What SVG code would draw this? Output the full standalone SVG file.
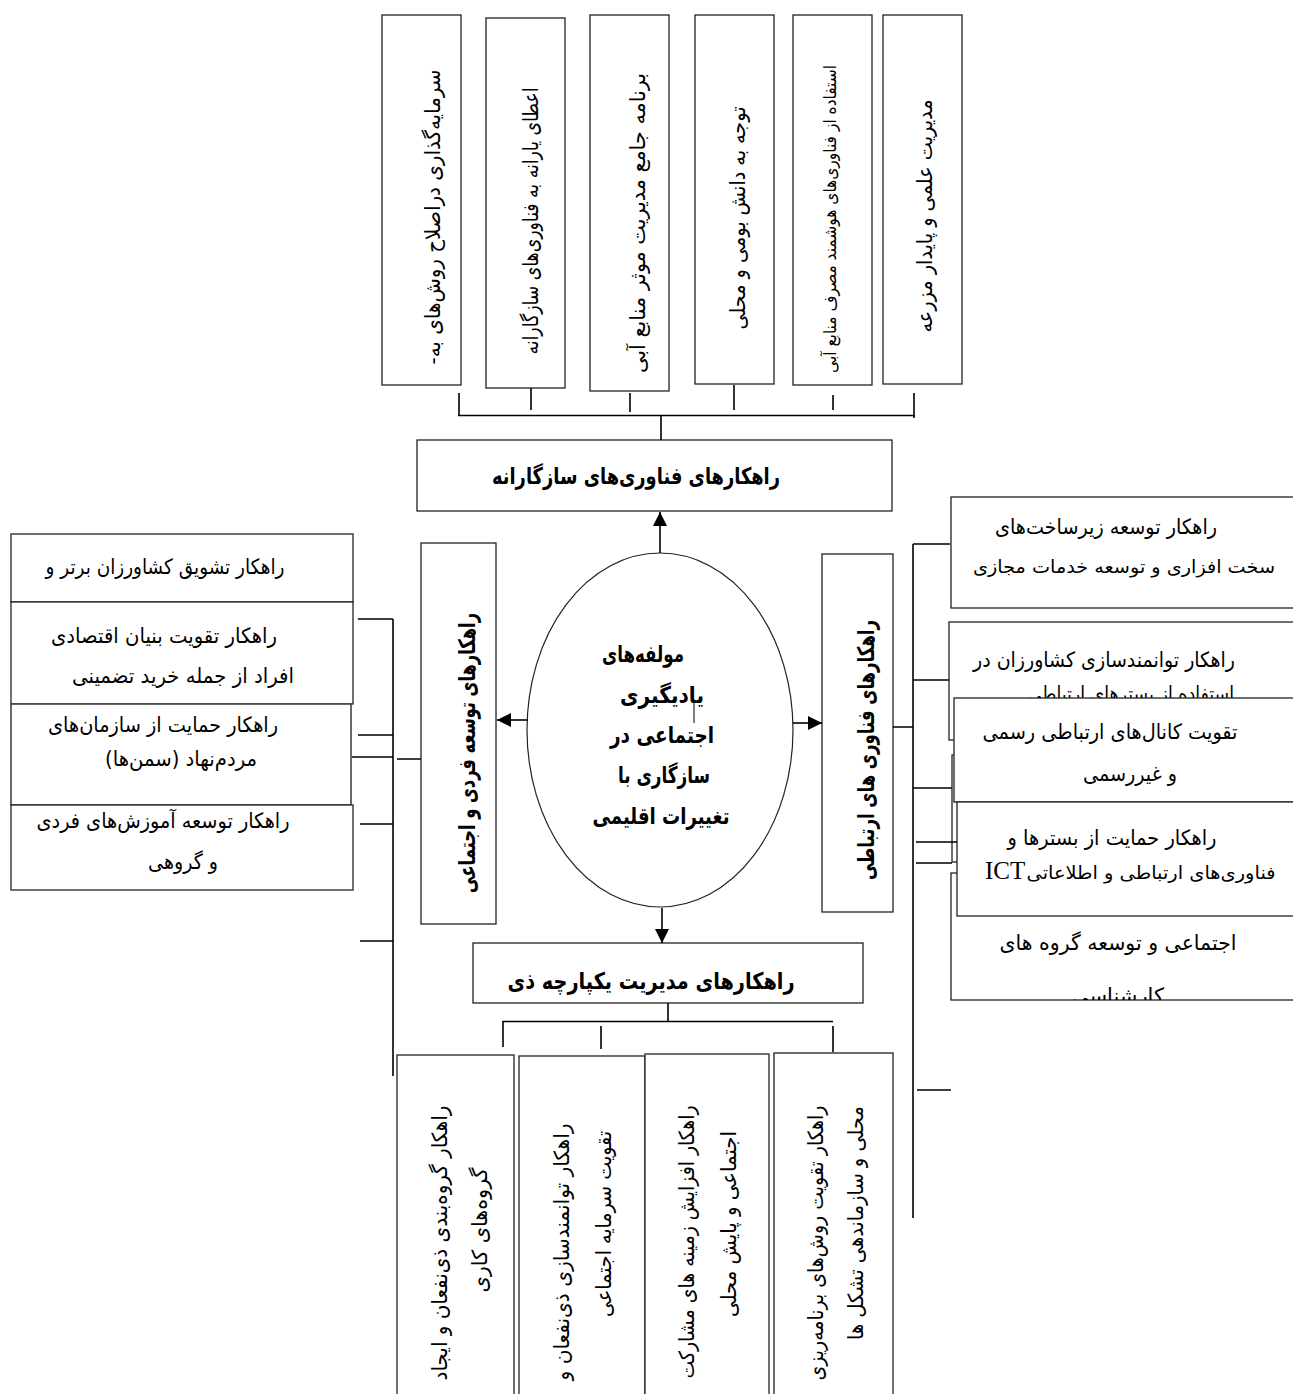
<svg xmlns="http://www.w3.org/2000/svg" width="1293" height="1394" viewBox="0 0 1293 1394">
<style>
.box{fill:#fff;stroke:#222;stroke-width:1.3}
.t{font-family:"DejaVu Sans",sans-serif;font-size:21px;fill:#000}
.b{font-weight:bold;font-size:23px}
.sm{font-size:17px}
.nr{font-size:18px}
.ln{stroke:#000;stroke-width:1.6;fill:none}
.en{font-family:"Liberation Serif",serif;font-size:25px;fill:#000}
</style>
<defs>
<marker id="ah" markerWidth="14" markerHeight="14" refX="14" refY="7" orient="auto" markerUnits="userSpaceOnUse">
<path d="M0,0 L14,7 L0,14 z" fill="#000"/>
</marker>
<clipPath id="r5clip"><rect x="951" y="873" width="342" height="127"/></clipPath>
</defs>
<rect width="1293" height="1394" fill="#fff"/>

<g id="top1"><rect class="box" x="382" y="15" width="79" height="370"/>
<text class="t" direction="rtl" text-anchor="middle" transform="translate(440,217) rotate(-90)" textLength="295" lengthAdjust="spacingAndGlyphs">سرمایه‌گذاری دراصلاح روش‌های به-</text></g>
<g id="top2"><rect class="box" x="486" y="18" width="79" height="370"/>
<text class="t" direction="rtl" text-anchor="middle" transform="translate(538,221) rotate(-90)" textLength="267" lengthAdjust="spacingAndGlyphs">اعطای یارانه به فناوری‌های سازگارانه</text></g>
<g id="top3"><rect class="box" x="590" y="15" width="79" height="376"/>
<text class="t" direction="rtl" text-anchor="middle" transform="translate(645,223) rotate(-90)" textLength="300" lengthAdjust="spacingAndGlyphs">برنامه جامع مدیریت موثر  منابع آبی</text></g>
<g id="top4"><rect class="box" x="695" y="15" width="79" height="369"/>
<text class="t" direction="rtl" text-anchor="middle" transform="translate(745,218) rotate(-90)" textLength="223" lengthAdjust="spacingAndGlyphs">توجه به دانش بومی و محلی</text></g>
<g id="top5"><rect class="box" x="793" y="15" width="79" height="370"/>
<text class="t sm" direction="rtl" text-anchor="middle" transform="translate(836,219) rotate(-90)" textLength="308" lengthAdjust="spacingAndGlyphs">استفاده از فناوری‌های هوشمند مصرف منابع آبی</text></g>
<g id="top6"><rect class="box" x="883" y="15" width="79" height="369"/>
<text class="t" direction="rtl" text-anchor="middle" transform="translate(932,216) rotate(-90)" textLength="233" lengthAdjust="spacingAndGlyphs">مدیریت علمی و پایدار مزرعه</text></g>

<g id="head-adaptive"><rect class="box" x="417" y="440" width="475" height="71"/>
<text class="t b" direction="rtl" text-anchor="middle" x="636" y="484" textLength="288" lengthAdjust="spacingAndGlyphs">راهکارهای فناوری‌های سازگارانه</text></g>

<g id="left1"><rect class="box" x="11" y="534" width="342" height="68"/>
<text class="t" direction="rtl" text-anchor="middle" x="165" y="574" textLength="239" lengthAdjust="spacingAndGlyphs">راهکار تشویق کشاورزان برتر و</text></g>
<g id="left2"><rect class="box" x="11" y="602" width="342" height="102"/>
<text class="t" direction="rtl" text-anchor="middle" x="164" y="643" textLength="226" lengthAdjust="spacingAndGlyphs">راهکار تقویت بنیان اقتصادی</text>
<text class="t" direction="rtl" text-anchor="middle" x="183" y="683" textLength="222" lengthAdjust="spacingAndGlyphs">افراد از جمله خرید تضمینی</text></g>
<g id="left3"><rect class="box" x="11" y="704" width="340" height="101" style="stroke:#444;stroke-width:1.6"/>
<text class="t" direction="rtl" text-anchor="middle" x="163" y="732" textLength="230" lengthAdjust="spacingAndGlyphs">راهکار حمایت از سازمان‌های</text>
<text class="t" direction="rtl" text-anchor="middle" x="181" y="766" textLength="152" lengthAdjust="spacingAndGlyphs">مردم‌نهاد (سمن‌ها)</text></g>
<g id="left4"><rect class="box" x="11" y="805" width="342" height="85"/>
<text class="t" direction="rtl" text-anchor="middle" x="163" y="828" textLength="253" lengthAdjust="spacingAndGlyphs">راهکار توسعه آموزش‌های فردی</text>
<text class="t" direction="rtl" text-anchor="middle" x="183" y="869" textLength="70" lengthAdjust="spacingAndGlyphs">و گروهی</text></g>

<g id="head-social"><rect class="box" x="421" y="543" width="75" height="381"/>
<text class="t b" direction="rtl" text-anchor="middle" transform="translate(475,753) rotate(-90)" textLength="280" lengthAdjust="spacingAndGlyphs">راهکارهای توسعه فردی و اجتماعی</text></g>

<g id="center"><ellipse cx="660" cy="730" rx="133" ry="177" fill="#fff" stroke="#222" stroke-width="1.2"/>
<text class="t b" direction="rtl" text-anchor="middle" x="643" y="662" textLength="82" lengthAdjust="spacingAndGlyphs">مولفه‌های</text>
<text class="t b" direction="rtl" text-anchor="middle" x="662" y="703" textLength="84" lengthAdjust="spacingAndGlyphs">یادیگیری</text>
<line x1="694" y1="701" x2="694" y2="723" stroke="#000" stroke-width="1"/>
<text class="t b" direction="rtl" text-anchor="middle" x="662" y="743" textLength="104" lengthAdjust="spacingAndGlyphs">اجتماعی در</text>
<text class="t b" direction="rtl" text-anchor="middle" x="664" y="783" textLength="92" lengthAdjust="spacingAndGlyphs">سازگاری با</text>
<text class="t b" direction="rtl" text-anchor="middle" x="661" y="824" textLength="137" lengthAdjust="spacingAndGlyphs">تغییرات اقلیمی</text></g>

<g id="head-ict"><rect class="box" x="822" y="554" width="71" height="358"/>
<text class="t b" direction="rtl" text-anchor="middle" transform="translate(874,750) rotate(-90)" textLength="260" lengthAdjust="spacingAndGlyphs">راهکارهای فناوری های ارتباطی</text></g>

<g id="right1"><rect class="box" x="951" y="497" width="360" height="111"/>
<text class="t" direction="rtl" text-anchor="middle" x="1106" y="534" textLength="222" lengthAdjust="spacingAndGlyphs">راهکار توسعه زیرساخت‌های</text>
<text class="t nr" direction="rtl" text-anchor="middle" x="1124" y="573" textLength="302" lengthAdjust="spacingAndGlyphs">سخت افزاری و توسعه خدمات مجازی</text></g>
<g id="right2"><rect class="box" x="949" y="622" width="360" height="118"/>
<text class="t" direction="rtl" text-anchor="middle" x="1104" y="667" textLength="262" lengthAdjust="spacingAndGlyphs">راهکار توانمندسازی کشاورزان در</text>
<text class="t" direction="rtl" text-anchor="middle" x="1131" y="701" textLength="206" lengthAdjust="spacingAndGlyphs">استفاده از بسترهای ارتباطی</text></g>
<g id="right-hidden"><rect class="box" x="952" y="755" width="360" height="107"/></g>
<g id="right5"><rect class="box" x="951" y="873" width="360" height="127"/>
<g clip-path="url(#r5clip)">
<text class="t" direction="rtl" text-anchor="middle" x="1118" y="950" textLength="237" lengthAdjust="spacingAndGlyphs">اجتماعی و توسعه گروه های</text>
<text class="t" direction="rtl" text-anchor="middle" x="1118" y="1003">کارشناسی</text></g></g>
<g id="right3"><rect class="box" x="954" y="698" width="360" height="104"/>
<text class="t" direction="rtl" text-anchor="middle" x="1110" y="739" textLength="255" lengthAdjust="spacingAndGlyphs">تقویت کانال‌های ارتباطی رسمی</text>
<text class="t" direction="rtl" text-anchor="middle" x="1130" y="781" textLength="94" lengthAdjust="spacingAndGlyphs">و غیررسمی</text></g>
<g id="right4"><rect class="box" x="957" y="802" width="360" height="114"/>
<text class="t" direction="rtl" text-anchor="middle" x="1112" y="845" textLength="209" lengthAdjust="spacingAndGlyphs">راهکار حمایت از بسترها و</text>
<text class="t nr" direction="rtl" text-anchor="middle" x="1151" y="879" textLength="249" lengthAdjust="spacingAndGlyphs">فناوری‌های ارتباطی و اطلاعاتی</text>
<text class="en" x="985" y="879">ICT</text></g>

<g id="head-ikm"><rect class="box" x="473" y="943" width="390" height="60"/>
<text class="t b" direction="rtl" text-anchor="middle" x="651" y="989" textLength="287" lengthAdjust="spacingAndGlyphs">راهکارهای مدیریت یکپارچه ذی</text></g>

<g id="bottom1"><rect class="box" x="397" y="1055" width="117" height="345"/>
<text class="t" direction="rtl" text-anchor="middle" transform="translate(447,1243) rotate(-90)" textLength="275" lengthAdjust="spacingAndGlyphs">راهکار گروه‌بندی ذی‌نفعان و ایجاد</text>
<text class="t" direction="rtl" text-anchor="middle" transform="translate(487,1230) rotate(-90)" textLength="125" lengthAdjust="spacingAndGlyphs">گروه‌های کاری</text></g>
<g id="bottom2"><rect class="box" x="519" y="1056" width="126" height="345"/>
<text class="t" direction="rtl" text-anchor="middle" transform="translate(569,1252) rotate(-90)" textLength="257" lengthAdjust="spacingAndGlyphs">راهکار توانمندسازی ذی‌نفعان و</text>
<text class="t" direction="rtl" text-anchor="middle" transform="translate(611,1224) rotate(-90)" textLength="186" lengthAdjust="spacingAndGlyphs">تقویت سرمایه اجتماعی</text></g>
<g id="bottom3"><rect class="box" x="645" y="1054" width="124" height="345"/>
<text class="t" direction="rtl" text-anchor="middle" transform="translate(694,1242) rotate(-90)" textLength="273" lengthAdjust="spacingAndGlyphs">راهکار افزایش زمینه های مشارکت</text>
<text class="t" direction="rtl" text-anchor="middle" transform="translate(736,1224) rotate(-90)" textLength="186" lengthAdjust="spacingAndGlyphs">اجتماعی و پایش محلی</text></g>
<g id="bottom4"><rect class="box" x="774" y="1053" width="119" height="345"/>
<text class="t" direction="rtl" text-anchor="middle" transform="translate(823,1243) rotate(-90)" textLength="275" lengthAdjust="spacingAndGlyphs">راهکار تقویت روش‌های برنامه‌ریزی</text>
<text class="t" direction="rtl" text-anchor="middle" transform="translate(863,1223) rotate(-90)" textLength="234" lengthAdjust="spacingAndGlyphs">محلی و سازماندهی تشکل ها</text></g>

<g id="connectors" class="ln">
<path d="M459 393V416M531 388V410M630 393V412M734 385V410M833 395V410M914 393V418M458 415.5H915M661 415V440"/>
<path d="M660 553V512" marker-end="url(#ah)"/>
<path d="M528 720H497" marker-end="url(#ah)"/>
<path d="M793 723H822" marker-end="url(#ah)"/>
<path d="M662 908V943" marker-end="url(#ah)"/>
<path d="M393 619V1076M358 619H393M358 735H393M352 757H393M360 824H393M360 941H393M397 759H421"/>
<path d="M913 544V1218M913 544H950M913 680H949M913 788H952M916 842H957M916 863H952M917 1090H951M893 727H913"/>
<path d="M668 1003V1022M503 1021.5H833M503 1021V1047M601 1026V1049M833 1026V1052"/>
</g>
</svg>
